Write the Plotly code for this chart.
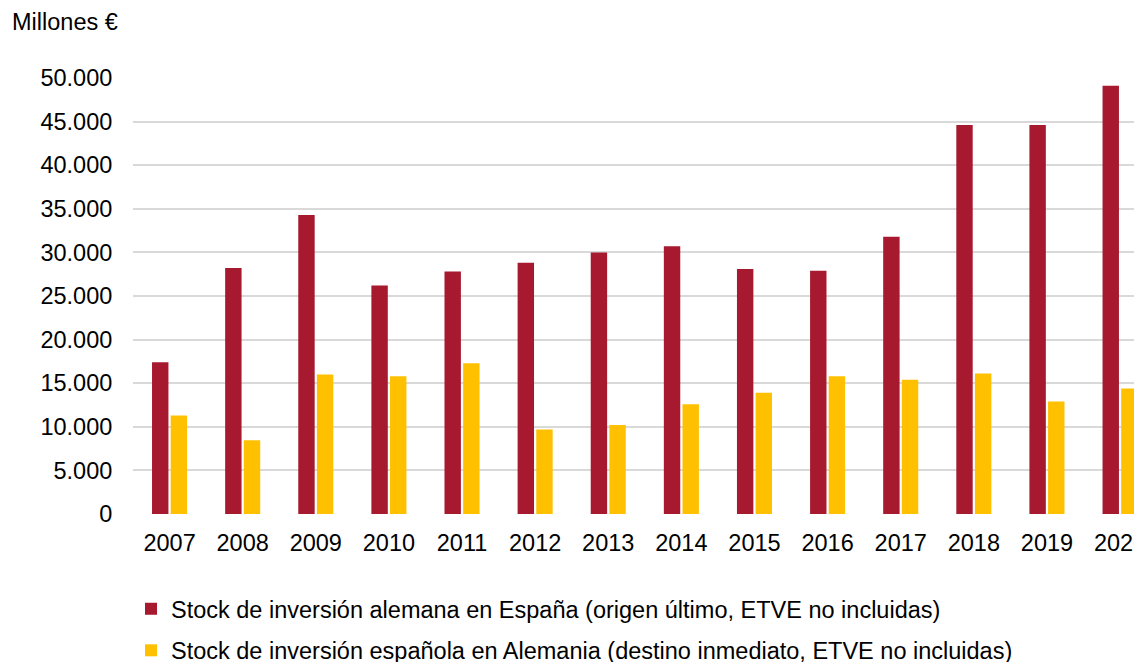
import plotly.graph_objects as go

years = ["2007", "2008", "2009", "2010", "2011", "2012", "2013",
         "2014", "2015", "2016", "2017", "2018", "2019", "2020"]
stock_aleman = [17400, 28200, 34300, 26200, 27800, 28800, 30000,
                30700, 28100, 27900, 31800, 44600, 44600, 49100]
stock_espanol = [11300, 8450, 16000, 15800, 17300, 9700, 10200,
                 12600, 13900, 15800, 15400, 16100, 12900, 14400]
name_aleman = "Stock de inversión alemana en España (origen último, ETVE no incluidas)"
name_espanol = "Stock de inversión española en Alemania (destino inmediato, ETVE no incluidas)"
y_ticks = list(range(0, 50001, 5000))
y_labels = ["0" if v == 0 else f"{v:,}".replace(",", ".") for v in y_ticks]

FONT = "Liberation Sans, Arial, sans-serif"
FS = 23.5

fig = go.Figure()
fig.add_trace(go.Bar(x=years, y=stock_aleman, name=name_aleman,
                     marker=dict(color="#A6192E", line=dict(width=0)),
                     legendgroup="a"))
fig.add_trace(go.Bar(x=years, y=stock_espanol, name=name_espanol,
                     marker=dict(color="#FFC000", line=dict(width=0)),
                     legendgroup="b"))

# page body has an 8px default margin, so the figure is sized/offset for it
fig.update_layout(
    width=1134, height=654,
    margin=dict(l=125, r=0, t=70, b=148, autoexpand=False),
    paper_bgcolor="white", plot_bgcolor="white",
    font=dict(family=FONT, size=FS, color="black"),
    barmode="group", bargap=0.49, bargroupgap=0.12,
    showlegend=True,
    legend=dict(orientation="v", x=-0.002, xanchor="left", y=-0.1674, yanchor="top",
                traceorder="grouped", tracegroupgap=8,
                font=dict(family=FONT, size=FS, color="black"),
                bgcolor="rgba(0,0,0,0)"),
    xaxis=dict(type="category", range=[-0.5, 13.3], showgrid=False,
               showline=False, zeroline=False, automargin=False,
               ticks="outside", ticklen=8, tickcolor="rgba(0,0,0,0)",
               tickfont=dict(family=FONT, size=FS, color="black")),
    yaxis=dict(range=[0, 50000], tickvals=y_ticks, ticktext=y_labels,
               showgrid=True, gridcolor="#D9D9D9", gridwidth=1.5,
               zeroline=False, showline=False, automargin=False,
               ticks="outside", ticklen=15, tickcolor="rgba(0,0,0,0)",
               tickfont=dict(family=FONT, size=FS, color="black")),
    annotations=[dict(text="Millones €", xref="paper", yref="paper",
                      x=(10 - 133) / 1009, y=1 + (78 - 22) / 436,
                      xanchor="left", yanchor="middle", showarrow=False,
                      font=dict(family=FONT, size=FS, color="black"))],
)

fig.write_html("out.html")
